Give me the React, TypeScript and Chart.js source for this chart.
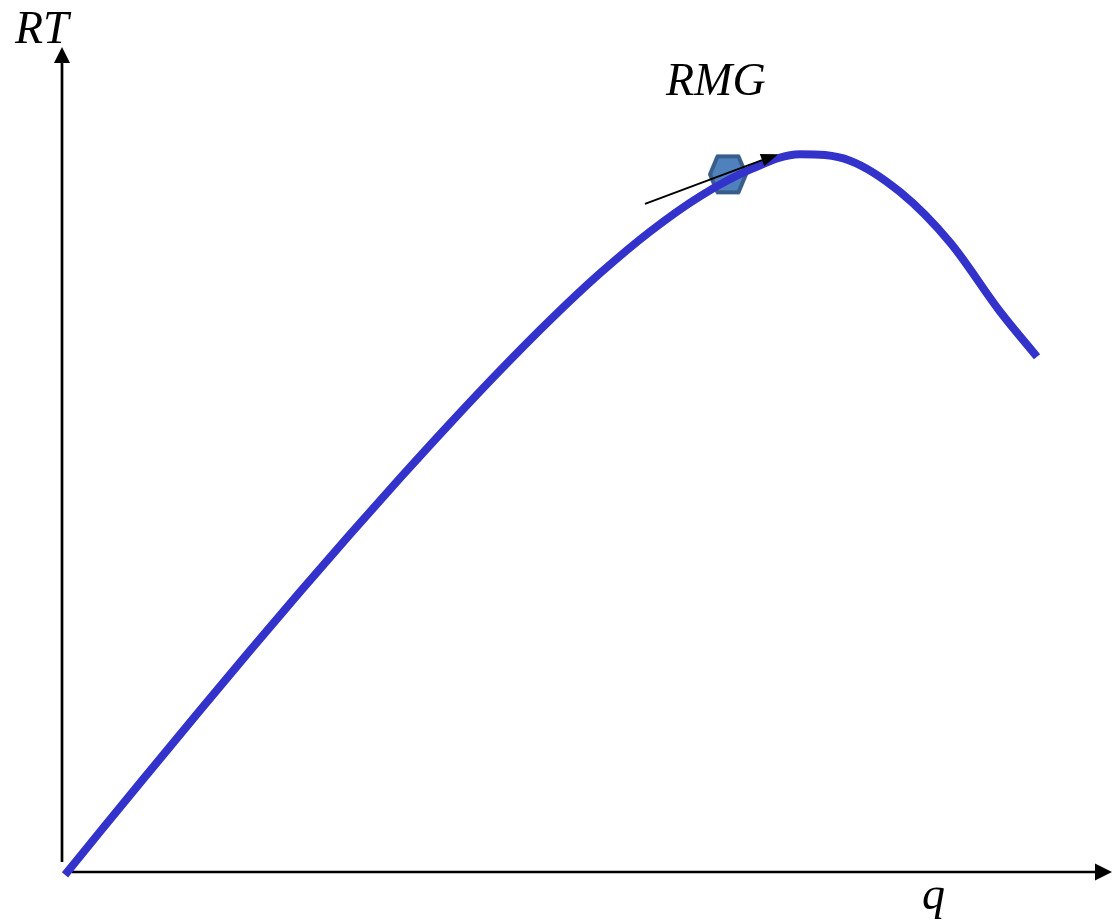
import React, { useEffect, useRef } from "react";
import { Chart, registerables } from "chart.js";

Chart.register(...registerables);

// Revenue curve RT(q)
const qValues = [0.3, 3.8, 8.8, 13.8, 18.8, 23.8, 28.8, 33.8, 38.8, 43.8, 48.8, 53.8, 58.8, 63.8, 68.8, 73.8, 78.8, 83.8, 88.8, 93.8, 97.5];
const rtValues = [-0.4, 5.6, 14.05, 22.45, 30.75, 38.9, 46.9, 54.7, 62.3, 69.65, 76.65, 83.15, 88.95, 93.85, 97.55, 99.7, 98.8, 94.45, 87.45, 77.85, 71.55];

// Marker point (RMG) on the curve
const markerQ = [66.6];
const markerRT = [96.9];

// Tangent arrow: start and tip
const arrowQ = [58.3, 71.6];
const arrowRT = [92.8, 99.7];

// Axes: vertical (q=0) and horizontal (RT=0)
const yAxisRT = [1.4, 114.6];
const xAxisQ = [1.0, 105.0];

const axisLabels = ["RT", "q"];
const markerLabel = "RMG";

function makeHexagon(): HTMLCanvasElement {
  const c = document.createElement("canvas");
  c.width = 44;
  c.height = 44;
  const ctx = c.getContext("2d")!;
  ctx.translate(22, 22);
  ctx.beginPath();
  ctx.moveTo(-18, 0);
  ctx.lineTo(-10.5, -18);
  ctx.lineTo(10.5, -18);
  ctx.lineTo(18, 0);
  ctx.lineTo(10.5, 18);
  ctx.lineTo(-10.5, 18);
  ctx.closePath();
  ctx.fillStyle = "#4f81bd";
  ctx.fill();
  ctx.lineWidth = 4;
  ctx.strokeStyle = "#385d8a";
  ctx.lineJoin = "round";
  ctx.stroke();
  return c;
}

function arrow(ctx: CanvasRenderingContext2D, x1: number, y1: number, x2: number, y2: number, lw: number, headLen: number, headW: number) {
  const ang = Math.atan2(y2 - y1, x2 - x1);
  const bx = x2 - headLen * Math.cos(ang);
  const by = y2 - headLen * Math.sin(ang);
  ctx.beginPath();
  ctx.moveTo(x1, y1);
  ctx.lineTo(bx, by);
  ctx.lineWidth = lw;
  ctx.strokeStyle = "#000";
  ctx.stroke();
  ctx.beginPath();
  ctx.moveTo(x2, y2);
  ctx.lineTo(bx + (headW / 2) * Math.sin(ang), by - (headW / 2) * Math.cos(ang));
  ctx.lineTo(bx - (headW / 2) * Math.sin(ang), by + (headW / 2) * Math.cos(ang));
  ctx.closePath();
  ctx.fillStyle = "#000";
  ctx.fill();
}

const decorPlugin = {
  id: "decor",
  beforeDatasetsDraw(chart: any) {
    const { ctx, scales } = chart;
    const xs = scales.x;
    const ys = scales.y;
    ctx.save();
    // axes
    arrow(ctx, xs.getPixelForValue(0), ys.getPixelForValue(yAxisRT[0]), xs.getPixelForValue(0), ys.getPixelForValue(yAxisRT[1]), 2.7, 16, 16);
    arrow(ctx, xs.getPixelForValue(xAxisQ[0]), ys.getPixelForValue(0), xs.getPixelForValue(xAxisQ[1]), ys.getPixelForValue(0), 2.7, 17, 17);
    // labels
    ctx.fillStyle = "#000";
    ctx.font = "italic 46px 'Liberation Serif', 'Times New Roman', serif";
    ctx.textBaseline = "alphabetic";
    ctx.textAlign = "left";
    ctx.fillText(axisLabels[0], 15, 43);
    ctx.fillText(markerLabel, 666, 95);
    ctx.fillText(axisLabels[1], 922, 909);
    ctx.restore();
  },
  afterDatasetDraw(chart: any, args: any) {
    if (args.index !== 0) return;
    const { ctx, scales } = chart;
    const xs = scales.x;
    const ys = scales.y;
    ctx.save();
    arrow(ctx, xs.getPixelForValue(arrowQ[0]), ys.getPixelForValue(arrowRT[0]), xs.getPixelForValue(arrowQ[1]), ys.getPixelForValue(arrowRT[1]), 2, 17, 13);
    ctx.restore();
  },
};

export default function App() {
  const ref = useRef<HTMLCanvasElement | null>(null);
  useEffect(() => {
    if (!ref.current) return;
    const hex = makeHexagon();
    const chart = new Chart(ref.current, {
      type: "scatter",
      data: {
        datasets: [
          {
            data: qValues.map((q, i) => ({ x: q, y: rtValues[i] })),
            showLine: true,
            borderColor: "#3333cc",
            borderWidth: 8,
            borderCapStyle: "butt",
            borderJoinStyle: "round",
            pointRadius: 0,
            cubicInterpolationMode: "monotone",
            clip: false,
          } as any,
          {
            data: markerQ.map((q, i) => ({ x: q, y: markerRT[i] })),
            pointStyle: hex as any,
            pointRadius: 22,
            clip: false,
          } as any,
        ],
      },
      options: {
        animation: false,
        responsive: false,
        maintainAspectRatio: false,
        layout: { padding: 0, autoPadding: false } as any,
        plugins: { legend: { display: false }, tooltip: { enabled: false } },
        events: [],
        scales: {
          x: { type: "linear", min: -6.2, max: 105.5, display: false },
          y: { type: "linear", min: -6.944, max: 121.111, display: false },
        },
      },
      plugins: [decorPlugin],
    });
    return () => chart.destroy();
  }, []);
  return (
    <div style={{ position: "absolute", left: 0, top: 0, width: 1117, height: 922, background: "#fff" }}>
      <canvas ref={ref} width={1117} height={922} style={{ width: 1117, height: 922, display: "block" }} />
    </div>
  );
}
